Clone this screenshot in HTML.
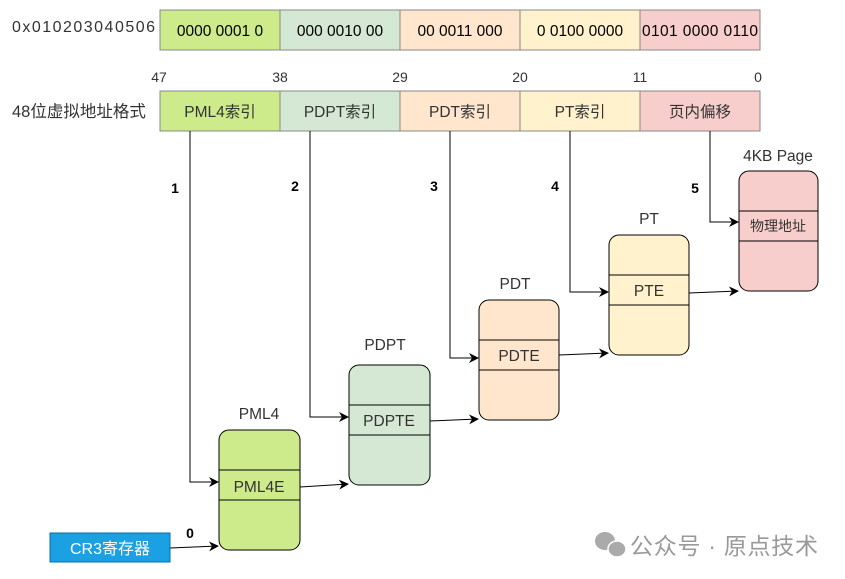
<!DOCTYPE html>
<html><head><meta charset="utf-8"><style>
html,body{margin:0;padding:0;background:#fff;}
svg{display:block;font-family:"Liberation Sans","Noto Sans CJK SC",sans-serif;}
</style></head><body>
<svg width="845" height="579" viewBox="0 0 845 579" xmlns="http://www.w3.org/2000/svg">
<defs>
<marker id="a" markerWidth="10" markerHeight="10" refX="9" refY="5" orient="auto" markerUnits="userSpaceOnUse">
<path d="M0,0 L10,5 L0,10 L3,5 Z" fill="#000"/></marker>
</defs>
<g font-size="16" fill="#333">
<text x="12" y="32" textLength="143">0x010203040506</text>
<text x="12" y="117" font-size="16.5">48位虚拟地址格式</text>
</g>
<g stroke="#888" stroke-width="1">
<rect x="160" y="10" width="120" height="40" fill="#cdeb8b"/>
<rect x="280" y="10" width="120" height="40" fill="#d5e8d4"/>
<rect x="400" y="10" width="120" height="40" fill="#ffe6cc"/>
<rect x="520" y="10" width="120" height="40" fill="#fff2cc"/>
<rect x="640" y="10" width="120" height="40" fill="#f8cecc"/>
<rect x="160" y="91" width="120" height="40" fill="#cdeb8b"/>
<rect x="280" y="91" width="120" height="40" fill="#d5e8d4"/>
<rect x="400" y="91" width="120" height="40" fill="#ffe6cc"/>
<rect x="520" y="91" width="120" height="40" fill="#fff2cc"/>
<rect x="640" y="91" width="120" height="40" fill="#f8cecc"/>
</g>
<g font-size="15.5" fill="#000" text-anchor="middle">
<text x="220" y="36">0000 0001 0</text>
<text x="340" y="36">000 0010 00</text>
<text x="460" y="36">00 0011 000</text>
<text x="580" y="36">0 0100 0000</text>
<text x="700" y="36" textLength="116">0101 0000 0110</text>
<g fill="#333">
<text x="220" y="117">PML4索引</text>
<text x="340" y="117">PDPT索引</text>
<text x="460" y="117">PDT索引</text>
<text x="580" y="117">PT索引</text>
<text x="700" y="117">页内偏移</text>
</g>
<g font-size="14" fill="#333">
<text x="159" y="82">47</text><text x="280" y="82">38</text><text x="400" y="82">29</text>
<text x="520" y="82">20</text><text x="640" y="82">11</text><text x="758" y="82">0</text>
</g>
</g>
<g stroke="#000" stroke-width="1">
<rect x="219" y="430" width="81" height="120" rx="10" fill="#cdeb8b"/>
<line x1="219" y1="470" x2="300" y2="470"/><line x1="219" y1="500" x2="300" y2="500"/>
<rect x="349" y="365" width="81" height="120" rx="10" fill="#d5e8d4"/>
<line x1="349" y1="405" x2="430" y2="405"/><line x1="349" y1="435" x2="430" y2="435"/>
<rect x="479" y="300" width="80" height="120" rx="10" fill="#ffe6cc"/>
<line x1="479" y1="340" x2="559" y2="340"/><line x1="479" y1="370" x2="559" y2="370"/>
<rect x="609" y="235" width="80" height="120" rx="10" fill="#fff2cc"/>
<line x1="609" y1="275" x2="689" y2="275"/><line x1="609" y1="305" x2="689" y2="305"/>
<rect x="739" y="171" width="79" height="120" rx="10" fill="#f8cecc"/>
<line x1="739" y1="211" x2="818" y2="211"/><line x1="739" y1="241" x2="818" y2="241"/>
</g>
<g font-size="15.5" fill="#333" text-anchor="middle">
<text x="259" y="419">PML4</text>
<text x="385" y="350">PDPT</text>
<text x="515" y="289">PDT</text>
<text x="649" y="224">PT</text>
<text x="778" y="161">4KB Page</text>
<text x="259" y="492">PML4E</text>
<text x="389" y="426">PDPTE</text>
<text x="519" y="361">PDTE</text>
<text x="649" y="296">PTE</text>
<text x="778" y="231" font-size="14">物理地址</text>
</g>
<g stroke="#000" stroke-width="1" fill="none" marker-end="url(#a)">
<polyline points="190,131 190,482 218,482"/>
<polyline points="310,131 310,417 348,417"/>
<polyline points="450,131 450,358 478,358"/>
<polyline points="570,131 570,292 608,292"/>
<polyline points="710,131 710,222 738,222"/>
<line x1="300" y1="487" x2="348" y2="484"/>
<line x1="430" y1="421" x2="478" y2="419"/>
<line x1="559" y1="355" x2="608" y2="353"/>
<line x1="689" y1="293" x2="738" y2="291"/>
<line x1="170" y1="548" x2="218" y2="546"/>
</g>
<g font-size="14" font-weight="bold" fill="#000" text-anchor="middle">
<text x="175" y="193">1</text><text x="295" y="191">2</text><text x="434" y="191">3</text>
<text x="555" y="191">4</text><text x="695" y="193">5</text><text x="190" y="538">0</text>
</g>
<rect x="50" y="533" width="120" height="29" fill="#1ba1e2" stroke="#006eaf"/>
<text x="110" y="554" font-size="16" fill="#fff" text-anchor="middle">CR3寄存器</text>
<g fill="#aaa">
<ellipse cx="605" cy="541" rx="10" ry="9"/><ellipse cx="617" cy="549" rx="9" ry="8" stroke="#fff" stroke-width="1.5"/>
</g>
<text x="630" y="554" font-size="23" fill="#999" textLength="188">公众号 · 原点技术</text>
</svg>
</body></html>
